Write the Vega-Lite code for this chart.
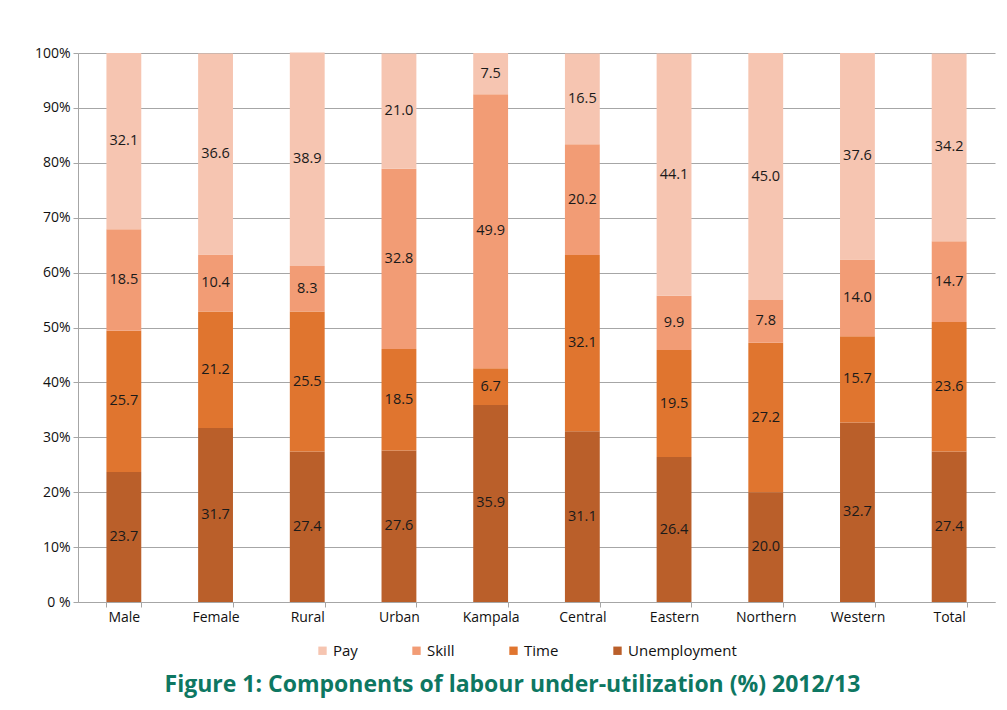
{
  "$schema": "https://vega.github.io/schema/vega-lite/v6.json",
  "width": 917,
  "height": 549,
  "padding": {"top": 46, "left": 34, "right": 10, "bottom": 10},
  "background": "white",
  "title": {
    "text": "Figure 1: Components of labour under-utilization (%) 2012/13",
    "orient": "bottom",
    "anchor": "middle",
    "color": "#0E7762",
    "font": "Open Sans",
    "fontSize": 23,
    "fontWeight": "bold",
    "offset": 15,
    "dx": -24
  },
  "data": {
    "values": [
      {"category": "Male", "component": "Unemployment", "order": 1, "value": 23.7},
      {"category": "Male", "component": "Time", "order": 2, "value": 25.7},
      {"category": "Male", "component": "Skill", "order": 3, "value": 18.5},
      {"category": "Male", "component": "Pay", "order": 4, "value": 32.1},
      {"category": "Female", "component": "Unemployment", "order": 1, "value": 31.7},
      {"category": "Female", "component": "Time", "order": 2, "value": 21.2},
      {"category": "Female", "component": "Skill", "order": 3, "value": 10.4},
      {"category": "Female", "component": "Pay", "order": 4, "value": 36.6},
      {"category": "Rural", "component": "Unemployment", "order": 1, "value": 27.4},
      {"category": "Rural", "component": "Time", "order": 2, "value": 25.5},
      {"category": "Rural", "component": "Skill", "order": 3, "value": 8.3},
      {"category": "Rural", "component": "Pay", "order": 4, "value": 38.9},
      {"category": "Urban", "component": "Unemployment", "order": 1, "value": 27.6},
      {"category": "Urban", "component": "Time", "order": 2, "value": 18.5},
      {"category": "Urban", "component": "Skill", "order": 3, "value": 32.8},
      {"category": "Urban", "component": "Pay", "order": 4, "value": 21.0},
      {"category": "Kampala", "component": "Unemployment", "order": 1, "value": 35.9},
      {"category": "Kampala", "component": "Time", "order": 2, "value": 6.7},
      {"category": "Kampala", "component": "Skill", "order": 3, "value": 49.9},
      {"category": "Kampala", "component": "Pay", "order": 4, "value": 7.5},
      {"category": "Central", "component": "Unemployment", "order": 1, "value": 31.1},
      {"category": "Central", "component": "Time", "order": 2, "value": 32.1},
      {"category": "Central", "component": "Skill", "order": 3, "value": 20.2},
      {"category": "Central", "component": "Pay", "order": 4, "value": 16.5},
      {"category": "Eastern", "component": "Unemployment", "order": 1, "value": 26.4},
      {"category": "Eastern", "component": "Time", "order": 2, "value": 19.5},
      {"category": "Eastern", "component": "Skill", "order": 3, "value": 9.9},
      {"category": "Eastern", "component": "Pay", "order": 4, "value": 44.1},
      {"category": "Northern", "component": "Unemployment", "order": 1, "value": 20.0},
      {"category": "Northern", "component": "Time", "order": 2, "value": 27.2},
      {"category": "Northern", "component": "Skill", "order": 3, "value": 7.8},
      {"category": "Northern", "component": "Pay", "order": 4, "value": 45.0},
      {"category": "Western", "component": "Unemployment", "order": 1, "value": 32.7},
      {"category": "Western", "component": "Time", "order": 2, "value": 15.7},
      {"category": "Western", "component": "Skill", "order": 3, "value": 14.0},
      {"category": "Western", "component": "Pay", "order": 4, "value": 37.6},
      {"category": "Total", "component": "Unemployment", "order": 1, "value": 27.4},
      {"category": "Total", "component": "Time", "order": 2, "value": 23.6},
      {"category": "Total", "component": "Skill", "order": 3, "value": 14.7},
      {"category": "Total", "component": "Pay", "order": 4, "value": 34.2}
    ]
  },
  "transform": [
    {"stack": "value", "groupby": ["category"], "sort": [{"field": "order", "order": "ascending"}], "as": ["y0", "y1"]},
    {"calculate": "(datum.y0 + datum.y1) / 2", "as": "mid"}
  ],
  "encoding": {
    "x": {
      "field": "category",
      "type": "nominal",
      "sort": ["Male", "Female", "Rural", "Urban", "Kampala", "Central", "Eastern", "Northern", "Western", "Total"],
      "scale": {"paddingInner": 0.62, "paddingOuter": 0.31},
      "axis": {
        "title": null,
        "labelAngle": 0,
        "labelFont": "Open Sans",
        "labelFontSize": 14,
        "labelColor": "#111111",
        "labelPadding": 3,
        "tickBand": "extent",
        "tickColor": "#a6a6a6",
        "tickSize": 5,
        "domainColor": "#a6a6a6",
        "grid": false
      }
    }
  },
  "layer": [
    {
      "mark": {"type": "bar"},
      "encoding": {
        "y": {
          "field": "y0",
          "type": "quantitative",
          "scale": {"domain": [0, 100]},
          "axis": {
            "title": null,
            "values": [0, 10, 20, 30, 40, 50, 60, 70, 80, 90, 100],
            "labelExpr": "datum.value == 0 ? '0 %' : datum.value + '%'",
            "labelFont": "Open Sans",
            "labelFontSize": 14,
            "labelColor": "#111111",
            "labelPadding": 3,
            "gridColor": "#a6a6a6",
            "gridWidth": 1,
            "tickColor": "#a6a6a6",
            "tickSize": 5,
            "domainColor": "#a6a6a6"
          }
        },
        "y2": {"field": "y1"},
        "color": {
          "field": "component",
          "type": "nominal",
          "scale": {
            "domain": ["Pay", "Skill", "Time", "Unemployment"],
            "range": ["#F6C5B1", "#F29C75", "#E0752F", "#BA5F2A"]
          },
          "legend": {
            "title": null,
            "orient": "none",
            "legendX": 237,
            "legendY": 590,
            "direction": "horizontal",
            "symbolType": "square",
            "symbolSize": 70,
            "symbolStrokeWidth": 0,
            "labelFont": "Open Sans",
            "labelFontSize": 15,
            "labelColor": "#111111",
            "labelOffset": 3,
            "columnPadding": 51
          }
        }
      }
    },
    {
      "mark": {"type": "text", "font": "Open Sans", "fontSize": 14.5, "color": "#1a1a1a", "baseline": "middle"},
      "encoding": {
        "y": {"field": "mid", "type": "quantitative"},
        "text": {"field": "value", "type": "quantitative", "format": ".1f"}
      }
    }
  ],
  "config": {
    "view": {"stroke": null}
  }
}
